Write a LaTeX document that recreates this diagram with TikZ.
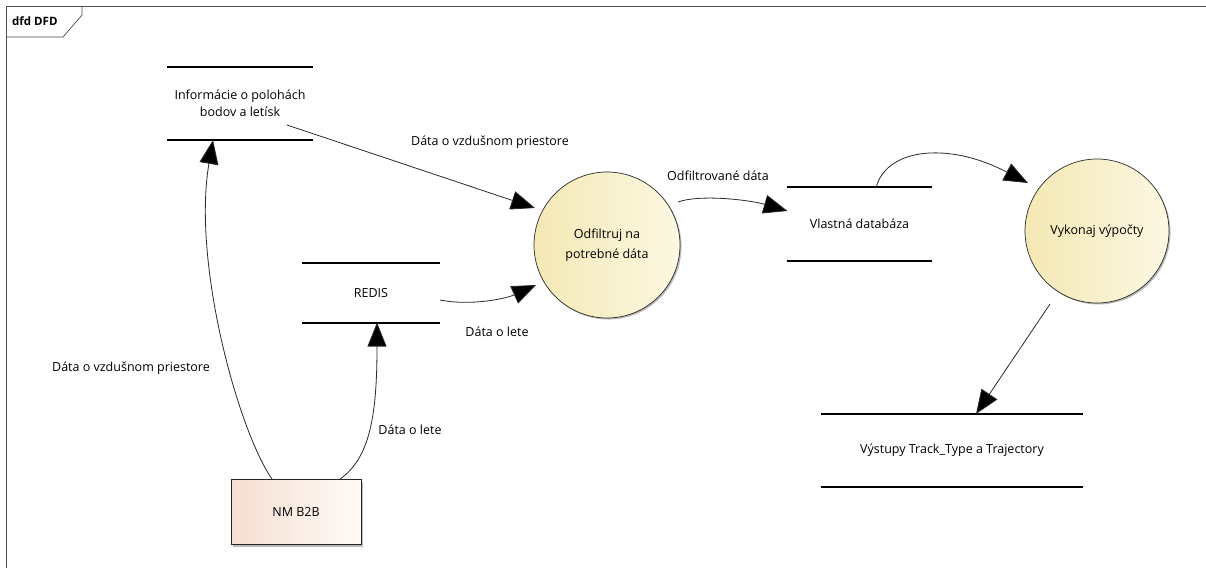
\documentclass[tikz,border=0pt]{standalone}
\usepackage{fontspec}
\setmainfont{Open Sans}
\usetikzlibrary{arrows.meta,shadows}
\definecolor{procL}{HTML}{F4E8B4}
\definecolor{procR}{HTML}{FCF8E2}
\definecolor{extL}{HTML}{F5DFD1}
\definecolor{extR}{HTML}{FFFBF8}
\definecolor{edgegray}{HTML}{2A2A2A}
\begin{document}
\begin{tikzpicture}[x=1pt,y=-1pt,
  lbl/.style={font=\fontsize{12.5}{15}\selectfont, text=black, inner sep=0pt},
  store/.style={rectangle, minimum height=73pt, inner sep=0pt, align=center,
    font=\fontsize{12.5}{17}\selectfont},
  storeline/.style={line width=1.8pt, black},
  process/.style={circle, minimum size=146pt, inner sep=0pt, draw=edgegray, line width=0.7pt,
    left color=procL, right color=procR, align=center, font=\fontsize{12.5}{20}\selectfont,
    drop shadow={shadow xshift=1.5pt, shadow yshift=-1.5pt, fill=black!45, opacity=0.6}},
  extent/.style={rectangle, draw=black!85, line width=0.8pt, left color=extL, right color=extR,
    align=center, font=\fontsize{12.5}{15}\selectfont,
    drop shadow={shadow xshift=2pt, shadow yshift=-2pt, fill=black!45, opacity=0.6}},
  flow/.style={draw=edgegray, line width=0.8pt, -{Triangle[length=24pt,width=19pt,fill=black]}},
]
\useasboundingbox (0,0) rectangle (1206,568);
\fill[white] (0,0) rectangle (1206,568);

% diagram frame and its tag
\draw[black!70, line width=0.7pt] (6,568) -- (6,6) -- (1206,6);
\node[font=\bfseries\fontsize{11.5}{13}\selectfont, anchor=west, inner sep=0pt] (tag) at (12,21) {dfd DFD};
\draw[black!70, line width=0.7pt] (6,37) -- (63,37) -- (82,15) -- (82,6);

% data stores
\node[store, minimum width=145pt] (s1) at (240,103.5) {Informácie o polohách\\bodov a letísk};
\node[store, minimum width=138pt, minimum height=59pt] (redis) at (371,293) {REDIS};
\node[store, minimum width=145pt] (db) at (859.5,224) {Vlastná databáza};
\node[store, minimum width=262pt] (out) at (952,450.5) {Výstupy Track\_Type a Trajectory};
\foreach \s in {s1,redis,db,out}{
  \draw[storeline] (\s.north west) -- (\s.north east);
  \draw[storeline] (\s.south west) -- (\s.south east);
}

% processes
\node[process] (p1) at (607,245) {Odfiltruj na\\potrebné dáta};
\node[process, minimum size=144pt] (p2) at (1097,231) {Vykonaj výpočty};

% external entity
\node[extent, minimum width=130pt, minimum height=65pt] (nm) at (296,512) {NM B2B};

% flows
\draw[flow] ([shift={(47,21.5)}]s1.center) -- ([shift={(-72,-37)}]p1.center);
\node[lbl] (l1) at (490,142) {Dáta o vzdušnom priestore};

\draw[flow] ([shift={(69,7)}]redis.center) .. controls (470,306) and (505,299) .. ([shift={(-71,40)}]p1.center);
\node[lbl] (l2) at (497,332) {Dáta o lete};

\draw[flow] ([shift={(-24,-33)}]nm.center) .. controls (238,430) and (192,262) .. ([shift={(-27,36.5)}]s1.center);
\node[lbl] (l3) at (131,368) {Dáta o vzdušnom priestore};

\draw[flow] ([shift={(44,-33)}]nm.center) .. controls (370,458) and (377,415) .. ([shift={(6,29.5)}]redis.center);
\node[lbl] (l4) at (410,430) {Dáta o lete};

\draw[flow] ([shift={(71,-43)}]p1.center) .. controls (700,194) and (750,200) .. ([shift={(-72,-13)}]db.center);
\node[lbl] (l5) at (718,176) {Odfiltrované dáta};

\draw[flow] ([shift={(16.5,-36)}]db.center) .. controls (885,150) and (945,140) .. ([shift={(-69,-48)}]p2.center);

\draw[flow] ([shift={(-47,73)}]p2.center) -- ([shift={(24,-36.5)}]out.center);
\end{tikzpicture}
\end{document}
